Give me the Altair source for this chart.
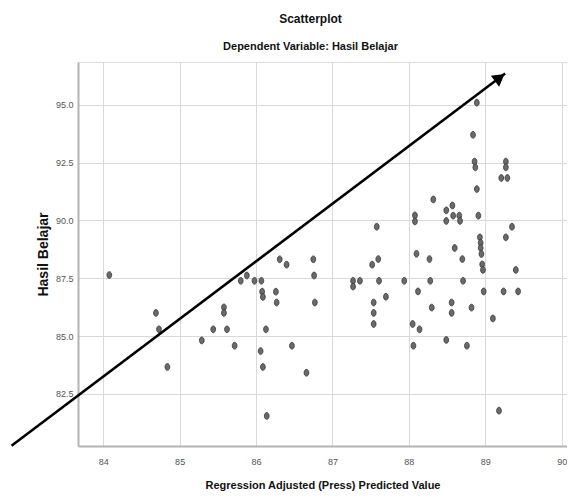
import altair as alt
import pandas as pd

# Predicted value (x) and Hasil Belajar (y)
x_vals = [84.08, 84.69, 84.73, 84.84, 85.29, 85.44, 85.58, 85.58, 85.62, 85.72,
          85.80, 85.88, 85.98, 86.07, 86.08, 86.09, 86.06, 86.09, 86.13, 86.14,
          86.26, 86.27, 86.31, 86.40, 86.47, 86.66, 86.75, 86.76, 86.77,
          88.93, 88.94, 88.94, 88.95, 88.96, 88.97, 89.27, 89.40, 88.98, 89.24,
          89.43, 89.10, 89.18, 88.60, 88.70, 88.71, 88.82, 88.76, 88.49, 88.56,
          88.56, 88.30, 88.28, 88.27, 88.10, 88.12, 88.05, 88.14, 88.06, 87.94,
          87.61, 87.70, 87.54, 87.54, 87.54, 87.52, 87.60, 87.27, 87.27, 87.36,
          88.89, 88.84, 88.86, 88.87, 89.27, 89.27, 89.21, 89.29, 88.89, 88.32,
          88.49, 88.57, 88.58, 88.66, 88.67, 88.91, 88.49, 88.08, 88.08, 87.58,
          89.35]
y_vals = [87.64, 86.00, 85.29, 83.66, 84.81, 85.29, 86.24, 86.00, 85.29, 84.58,
          87.39, 87.62, 87.39, 87.39, 86.92, 86.69, 84.35, 83.66, 85.29, 81.54,
          86.92, 86.45, 88.32, 88.09, 84.58, 83.41, 88.32, 87.62, 86.45,
          89.27, 89.03, 88.81, 88.55, 88.10, 87.86, 89.27, 87.86, 86.93, 86.93,
          86.93, 85.76, 81.77, 88.81, 88.33, 87.39, 86.23, 84.58, 84.83, 86.45,
          86.00, 86.23, 87.39, 88.33, 88.56, 86.93, 85.52, 85.29, 84.58, 87.39,
          87.39, 86.70, 86.45, 86.00, 85.52, 88.09, 88.33, 87.39, 87.14, 87.39,
          95.10, 93.71, 92.55, 92.30, 92.55, 92.30, 91.84, 91.84, 91.36, 90.91,
          90.44, 90.65, 90.21, 90.21, 89.98, 90.21, 89.98, 90.22, 89.96, 89.73,
          89.73]

x_ticks = [84, 85, 86, 87, 88, 89, 90]
y_ticks = [82.5, 85.0, 87.5, 90.0, 92.5, 95.0]

# hand-drawn arrow annotation (data units)
arrow_x = [82.80, 89.26]
arrow_y = [80.25, 96.36]
head_x = [89.19]
head_y = [96.18]

df = pd.DataFrame({"x": x_vals, "y": y_vals})
arrow_df = pd.DataFrame({"x": arrow_x, "y": arrow_y})
head_df = pd.DataFrame({"x": head_x, "y": head_y})

FONT = "Liberation Sans, Arial, sans-serif"

xs = alt.Scale(domain=[83.67, 90.07], nice=False, zero=False)
ys = alt.Scale(domain=[80.24, 96.86], nice=False, zero=False)

common_axis = dict(grid=True, gridColor="#d9d9d9", gridWidth=1,
                   domainColor="#b3b3b3", domainWidth=2, ticks=False,
                   labelFont=FONT, labelFontSize=9, labelColor="#555555")

x_axis = alt.Axis(values=x_ticks, format="d",
                  title="Regression Adjusted (Press) Predicted Value",
                  labelPadding=11, titleFont=FONT, titleFontSize=11,
                  titleFontWeight="bold", titleColor="#111111", titlePadding=13,
                  **common_axis)
y_axis = alt.Axis(values=y_ticks, format=".1f", title="Hasil Belajar",
                  labelPadding=5, titleFont=FONT, titleFontSize=14,
                  titleFontWeight="bold", titleColor="#111111", titlePadding=5,
                  **common_axis)

ELLIPSE = "M0,-1 A0.7,1 0 1,1 0,1 A0.7,1 0 1,1 0,-1 Z"

points = alt.Chart(df).mark_point(
    shape=ELLIPSE, size=46, filled=True, fill="#6a6a6a", stroke="#333333",
    strokeWidth=0.8, opacity=1
).encode(
    x=alt.X("x:Q", scale=xs, axis=x_axis),
    y=alt.Y("y:Q", scale=ys, axis=y_axis),
)

arrow = alt.Chart(arrow_df).mark_line(color="black", strokeWidth=2.6, clip=False).encode(
    x=alt.X("x:Q", scale=xs, axis=x_axis),
    y=alt.Y("y:Q", scale=ys, axis=y_axis),
)

head = alt.Chart(head_df).mark_point(
    shape="triangle-up", filled=True, color="black", size=190, angle=53,
    opacity=1, clip=False
).encode(
    x=alt.X("x:Q", scale=xs, axis=x_axis),
    y=alt.Y("y:Q", scale=ys, axis=y_axis),
)

chart = alt.layer(points, arrow, head).properties(
    width=489, height=384,
    autosize=alt.AutoSizeParams(type="none"),
    padding={"left": 70, "top": 54, "right": 0, "bottom": 46},
    title=alt.TitleParams(
        text="Scatterplot", subtitle="Dependent Variable: Hasil Belajar",
        anchor="middle", dx=-12, offset=9, font=FONT, fontSize=12,
        fontWeight="bold", color="#111111", subtitleFont=FONT,
        subtitleFontSize=11, subtitleFontWeight="bold",
        subtitleColor="#111111", subtitlePadding=15,
    ),
).configure_view(stroke=None).configure(background="white")

chart.save("out.html", embed_options={"renderer": "svg", "actions": False})
